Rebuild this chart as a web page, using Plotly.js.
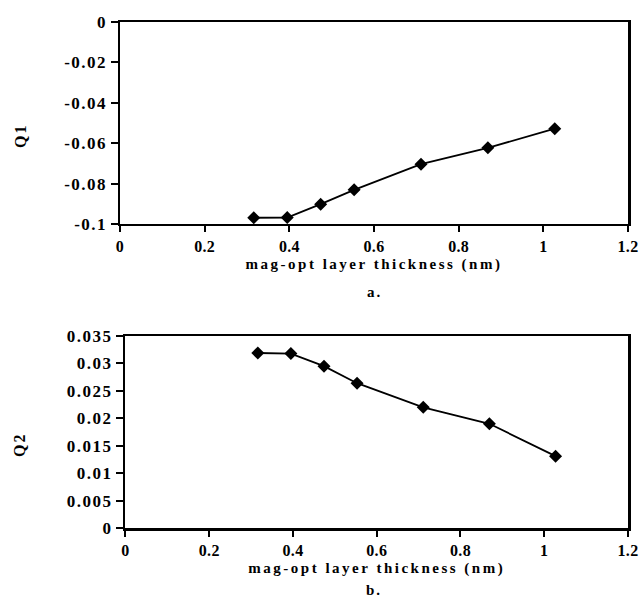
<!DOCTYPE html>
<html>
<head>
<meta charset="utf-8">
<script src="https://cdn.plot.ly/plotly-3.0.1.min.js"></script>
<style>
  html, body { margin: 0; padding: 0; background: #fff; }
  .xtick text, .x2tick text { letter-spacing: 0.3px; }
  .ytick text, .y2tick text { letter-spacing: 1.5px; }
  .g-xtitle text, .g-x2title text { letter-spacing: 2.5px; }
  .annotation-text { letter-spacing: 2px; }
</style>
</head>
<body>
<div id="chart" style="width:639px;height:614px;"></div>
<script>
// Layer thickness (nm)
var thickness = [0.316, 0.395, 0.474, 0.553, 0.711, 0.869, 1.027];
// Panel a: Q1
var q1Values = [-0.0969, -0.0968, -0.0902, -0.0831, -0.0704, -0.0623, -0.0528];
// Panel b: Q2
var q2Values = [0.0319, 0.0318, 0.0295, 0.0264, 0.0220, 0.0190, 0.0131];

// Tick labels
var xTickVals = [0, 0.2, 0.4, 0.6, 0.8, 1, 1.2];
var xTickText = ['0', '0.2', '0.4', '0.6', '0.8', '1', '1.2'];
var q1TickVals = [0, -0.02, -0.04, -0.06, -0.08, -0.1];
var q1TickText = ['0', '-0.02', '-0.04', '-0.06', '-0.08', '-0.1'];
var q2TickVals = [0, 0.005, 0.01, 0.015, 0.02, 0.025, 0.03, 0.035];
var q2TickText = ['0', '0.005', '0.01', '0.015', '0.02', '0.025', '0.03', '0.035'];

var xTitle = 'mag-opt layer thickness (nm)';

var FONT = 'Liberation Serif';
var xTickFont = {family: FONT, size: 16, color: '#000', weight: 'bold'};
var yTickFont = {family: FONT, size: 17, color: '#000', weight: 'bold'};
var titleFont = {family: FONT, size: 15, color: '#000', weight: 'bold'};

var lineStyle = {color: '#000', width: 1.8};
var markerStyle = {symbol: 'diamond', size: 10, color: '#000'};

var traces = [
  {x: thickness, y: q1Values, xaxis: 'x', yaxis: 'y', type: 'scatter', mode: 'lines+markers',
   line: lineStyle, marker: markerStyle, name: 'Q1', showlegend: false, cliponaxis: false},
  {x: thickness, y: q2Values, xaxis: 'x2', yaxis: 'y2', type: 'scatter', mode: 'lines+markers',
   line: lineStyle, marker: markerStyle, name: 'Q2', showlegend: false, cliponaxis: false}
];

function xAxis(domain, anchor) {
  return {
    domain: domain, anchor: anchor, range: [0, 1.2],
    tickmode: 'array', tickvals: xTickVals, ticktext: xTickText,
    showline: true, linecolor: '#000', linewidth: 2.5, mirror: true,
    ticks: 'outside', ticklen: 6, tickwidth: 2, tickcolor: '#000',
    showgrid: false, zeroline: false, tickfont: xTickFont, ticklabeloverflow: 'allow',
    title: {text: xTitle, font: titleFont, standoff: 5},
    automargin: false, fixedrange: true
  };
}
function yAxis(domain, anchor, range, vals, text) {
  return {
    domain: domain, anchor: anchor, range: range,
    tickmode: 'array', tickvals: vals, ticktext: text,
    showline: true, linecolor: '#000', linewidth: 2.5, mirror: true,
    ticks: 'outside', ticklen: 7, tickwidth: 2, tickcolor: '#000',
    showgrid: false, zeroline: false, tickfont: yTickFont, ticklabeloverflow: 'allow',
    automargin: false, fixedrange: true
  };
}

var layout = {
  width: 639, height: 614,
  margin: {l: 120, r: 11, t: 22, b: 86},
  paper_bgcolor: '#fff', plot_bgcolor: '#fff',
  showlegend: false,
  xaxis: xAxis([0, 1], 'y'),
  yaxis: yAxis([0.6008, 1], 'x', [-0.1, 0], q1TickVals, q1TickText),
  xaxis2: xAxis([0.0108, 1], 'y2'),
  yaxis2: yAxis([0, 0.3794], 'x2', [0, 0.035], q2TickVals, q2TickText),
  annotations: [
    {text: 'Q1', xref: 'paper', yref: 'paper', x: -0.197, y: 0.7747, textangle: -90,
     showarrow: false, xanchor: 'center', yanchor: 'middle', font: {family: FONT, size: 16, color: '#000', weight: 'bold'}},
    {text: 'Q2', xref: 'paper', yref: 'paper', x: -0.199, y: 0.164, textangle: -90,
     showarrow: false, xanchor: 'center', yanchor: 'middle', font: {family: FONT, size: 16, color: '#000', weight: 'bold'}},
    {text: 'a.', xref: 'paper', yref: 'paper', x: 0.5, y: 0.466,
     showarrow: false, xanchor: 'center', yanchor: 'middle', font: {family: FONT, size: 15, color: '#000', weight: 'bold'}},
    {text: 'b.', xref: 'paper', yref: 'paper', x: 0.5, y: -0.1225,
     showarrow: false, xanchor: 'center', yanchor: 'middle', font: {family: FONT, size: 15, color: '#000', weight: 'bold'}}
  ]
};

Plotly.newPlot('chart', traces, layout, {displayModeBar: false, staticPlot: true});
</script>
</body>
</html>
